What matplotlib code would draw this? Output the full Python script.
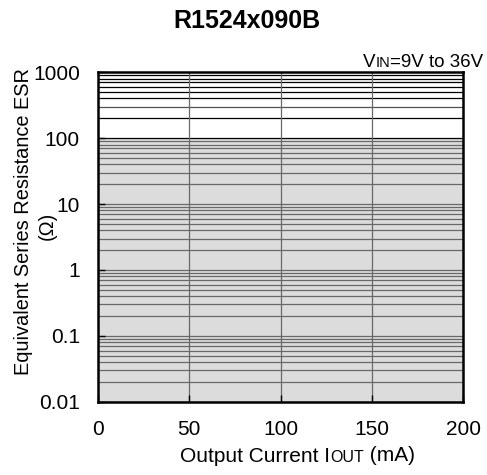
import matplotlib
matplotlib.use("Agg")
import matplotlib.pyplot as plt
from matplotlib.ticker import LogLocator

plt.rcParams["font.family"] = ["Liberation Sans", "DejaVu Sans"]

# stable region (ESR range) vs output current
iout = [0, 200]
esr_upper = [100, 100]
esr_lower = [0.01, 0.01]

x_ticks = [0, 50, 100, 150, 200]
y_ticks = [0.01, 0.1, 1, 10, 100, 1000]
y_labels = ["0.01", "0.1", "1", "10", "100", "1000"]

DESC = 0.21  # approx descent of Liberation Sans (em)

fig = plt.figure(figsize=(4.87, 4.75), dpi=100)
ax = fig.add_axes([0.201, 0.154, 0.750, 0.694])

ax.set_yscale("log")
ax.set_xlim(0, 200)
ax.set_ylim(0.01, 1000)

ax.fill_between(iout, esr_lower, esr_upper, color="#dcdcdc", zorder=0, linewidth=0)

ax.set_xticks(x_ticks)
ax.set_xticklabels([str(v) for v in x_ticks])
ax.set_yticks(y_ticks)
ax.set_yticklabels(y_labels)
ax.yaxis.set_minor_locator(LogLocator(base=10, subs=range(2, 10), numticks=20))
ax.yaxis.set_minor_formatter(plt.NullFormatter())

# horizontal grid: gray inside the shaded region, black above it
for dec in [0.01, 0.1, 1, 10]:
    for k in range(1, 10):
        ax.axhline(dec * k, color="#686868", lw=0.9, zorder=1)
for k in range(1, 10):
    ax.axhline(100 * k, color="#505050" if k == 3 else "black", lw=0.9, zorder=1)
for x in x_ticks[1:-1]:
    ax.axvline(x, color="#686868", lw=0.9, zorder=1)

ax.tick_params(axis="both", which="major", direction="in", length=5, width=1,
               labelsize=15, pad=13)
ax.tick_params(axis="y", which="minor", left=False)
for sp in ax.spines.values():
    sp.set_linewidth(1.8)
    sp.set_zorder(3)

fig.text(0.507, 0.956, "R1524x090B", ha="center", va="center",
         fontsize=18, fontweight="bold")


def small_caps(x, y, parts):
    """parts: list of (text, size); all on one shared baseline"""
    prev, prev_size = None, None
    for txt, size in parts:
        if prev is None:
            prev = fig.text(x, y, txt, fontsize=size, ha="left", va="baseline")
        else:
            prev = ax.annotate(txt, xy=(1, 0), xycoords=prev,
                               xytext=(0, DESC * prev_size), textcoords="offset points",
                               fontsize=size, ha="left", va="baseline")
        prev_size = size


small_caps(0.745, 0.859, [("V", 13.5), ("IN", 10.5), ("=9V to 36V", 13.5)])
small_caps(0.370, 0.027, [("Output Current I", 15), ("OUT", 11.5), (" (mA)", 15)])

fig.text(0.049, 0.533, "Equivalent Series Resistance ESR", rotation=90,
         fontsize=14.4, ha="center", va="center")
fig.text(0.097, 0.524, "(Ω)", rotation=90, fontsize=14.4, ha="center", va="center")

fig.savefig("out.png", dpi=100)
